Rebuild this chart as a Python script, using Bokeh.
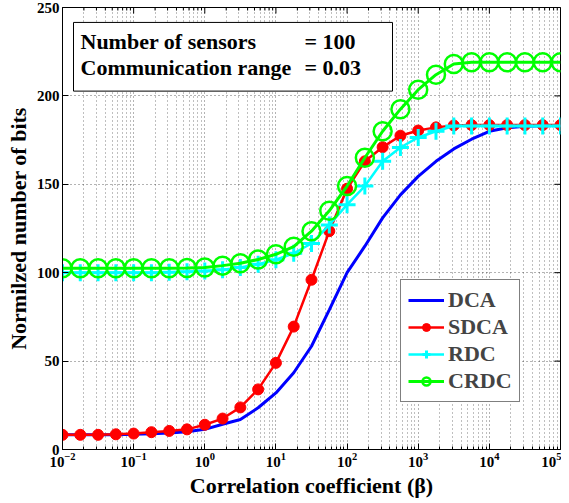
import math
from bokeh.plotting import figure
from bokeh.models import (FixedTicker, Range1d, BoxAnnotation,
                          Label, Legend, LegendItem, LogTickFormatter)
from bokeh.embed import file_html
from bokeh.resources import INLINE

# ---------------- data ----------------
beta = [0.01, 0.01778, 0.03162, 0.05623, 0.1, 0.1778, 0.3162, 0.5623,
        1, 1.778, 3.162, 5.623, 10, 17.78, 31.62, 56.23,
        100, 177.8, 316.2, 562.3, 1000, 1778, 3162, 5623,
        10000, 17780, 31620, 56230, 100000]

dca = [8.3, 8.3, 8.3, 8.4, 8.6, 8.9, 9.4, 10.1, 11.4, 14.3, 17.0, 23.6, 32.0,
       43.4, 58.4, 79.0, 100.0, 115.0, 131.0, 144.0, 154.5, 163.0, 170.0,
       175.5, 180.0, 182.0, 182.8, 183.1, 183.2]

sdca = [8.3, 8.3, 8.3, 8.6, 9.0, 9.8, 10.5, 11.4, 14.0, 17.5, 23.8, 34.0, 49.0,
        69.5, 96.0, 123.5, 147.5, 163.0, 171.0, 177.5, 180.4, 182.2, 183.3,
        183.5, 183.5, 183.5, 183.5, 183.5, 183.5]

rdc = [100.0, 100.0, 100.0, 100.0, 100.0, 100.0, 100.2, 100.5, 101.0, 101.7,
       103.0, 104.8, 107.3, 111.0, 116.5, 127.0, 138.5, 149.0, 163.0, 170.8,
       176.5, 180.0, 183.0, 183.0, 183.0, 183.0, 183.0, 183.0, 183.0]

crdc = [102.5, 102.5, 102.5, 102.5, 102.5, 102.5, 102.5, 102.6, 102.9, 104.0,
        105.3, 107.5, 110.4, 114.7, 123.5, 135.0, 149.0, 165.0, 180.0, 192.5,
        203.5, 212.0, 218.0, 219.0, 219.0, 219.0, 219.0, 219.0, 219.0]

series_names = ["DCA", "SDCA", "RDC", "CRDC"]
x_major = [1e-2, 1e-1, 1e0, 1e1, 1e2, 1e3, 1e4, 1e5]
y_major = [0, 50, 100, 150, 200, 250]

box_lines = [("Number of sensors", "= 100"), ("Communication range", "= 0.03")]

# ---------------- figure ----------------
FONT = "Liberation Serif"
x_minor = [m * d for d in x_major[:-1] for m in range(2, 10)]
X0, X1 = x_major[0], x_major[-1]
Y0, Y1 = y_major[0], y_major[-1]

p = figure(width=561, height=500, x_axis_type="log",
           x_range=Range1d(X0, X1), y_range=Range1d(Y0, Y1),
           output_backend="svg", toolbar_location=None,
           min_border_left=62, min_border_right=1, min_border_top=7,
           min_border_bottom=48)
p.background_fill_color = "white"
p.border_fill_color = "white"
p.outline_line_color = "black"
p.outline_line_width = 1

xt = FixedTicker(ticks=x_major, minor_ticks=x_minor)
yt = FixedTicker(ticks=y_major)
p.xaxis.ticker = xt
p.yaxis.ticker = yt
p.xgrid.ticker = xt
p.ygrid.ticker = yt

for g in (p.xgrid, p.ygrid):
    g.grid_line_color = "black"
    g.grid_line_alpha = 0.6
    g.grid_line_dash = "1 3"
    g.grid_line_width = 1
p.xgrid.minor_grid_line_color = "black"
p.xgrid.minor_grid_line_alpha = 0.5
p.xgrid.minor_grid_line_dash = "1 3"

for ax in (p.xaxis[0], p.yaxis[0]):
    ax.major_label_text_font = FONT
    ax.major_label_text_font_style = "bold"
    ax.major_label_text_font_size = "15px"
    ax.major_label_text_color = "black"
    ax.axis_label_text_font = FONT
    ax.axis_label_text_font_style = "bold"
    ax.axis_label_text_font_size = "22px"
    ax.axis_label_text_color = "black"
    ax.major_tick_in = 6
    ax.major_tick_out = 0
    ax.minor_tick_in = 3
    ax.minor_tick_out = 0
    ax.axis_line_color = "black"
    ax.major_tick_line_color = "black"
    ax.minor_tick_line_color = "black"
    ax.major_label_standoff = 3
    ax.axis_label_standoff = 3

p.xaxis.axis_label = "Correlation coefficient (β)"
p.yaxis.axis_label = "Normilzed number of bits"
p.xaxis.formatter = LogTickFormatter()

# inward ticks on the right and top edges (half of each dash is clipped by the frame)
p.scatter([X1] * len(y_major), y_major, marker="dash", size=12,
          line_color="black", line_width=1)
p.scatter(x_major, [Y1] * len(x_major), marker="dash", size=12, angle=math.pi / 2,
          line_color="black", line_width=1)
p.scatter(x_minor, [Y1] * len(x_minor), marker="dash", size=6, angle=math.pi / 2,
          line_color="black", line_width=1)

# ---------------- series ----------------
r_dca = p.line(beta, dca, line_color="#0000FF", line_width=3)

r_sdca_l = p.line(beta, sdca, line_color="#FF0000", line_width=2.5)
r_sdca_m = p.scatter(beta, sdca, marker="circle", size=11, fill_color="#FF0000",
                     line_color="#FF0000")

r_rdc_l = p.line(beta, rdc, line_color="#00FFFF", line_width=2.5)
r_rdc_m = p.scatter(beta, rdc, marker="cross", size=17, line_color="#00FFFF",
                    line_width=3)

r_crdc_l = p.line(beta, crdc, line_color="#00FF00", line_width=3)
r_crdc_m = p.scatter(beta, crdc, marker="circle", size=18, fill_color=None,
                     line_color="#00FF00", line_width=2.5)

legend = Legend(items=[
    LegendItem(label=series_names[0], renderers=[r_dca]),
    LegendItem(label=series_names[1], renderers=[r_sdca_l, r_sdca_m]),
    LegendItem(label=series_names[2], renderers=[r_rdc_l, r_rdc_m]),
    LegendItem(label=series_names[3], renderers=[r_crdc_l, r_crdc_m]),
], location=(338, 47))
legend.label_text_font = FONT
legend.label_text_font_style = "bold"
legend.label_text_font_size = "22px"
legend.label_height = 20
legend.glyph_height = 20
legend.glyph_width = 36
legend.spacing = 1
legend.padding = 7
legend.margin = 0
legend.label_standoff = 4
legend.border_line_color = "black"
legend.border_line_width = 1
legend.background_fill_color = "white"
legend.background_fill_alpha = 1
p.add_layout(legend)

# ---------------- text box ----------------
def xd(px):
    return 10 ** (-2 + (px - 62) / (498 / 7))

def yd(py):
    return (452 - py) * 250 / 444

p.add_layout(BoxAnnotation(left=xd(73), right=xd(392), top=yd(23), bottom=yd(92),
                           fill_color="white", fill_alpha=1, line_color="black",
                           line_width=1, line_alpha=1))
for (name, val), py in zip(box_lines, (42, 68)):
    for txt, px in ((name, 80), (val, 304)):
        p.add_layout(Label(x=xd(px), y=yd(py), text=txt, text_font=FONT,
                           text_font_style="bold", text_font_size="22px",
                           text_baseline="middle", text_color="black"))

open("out.html", "w").write(file_html(p, INLINE))
